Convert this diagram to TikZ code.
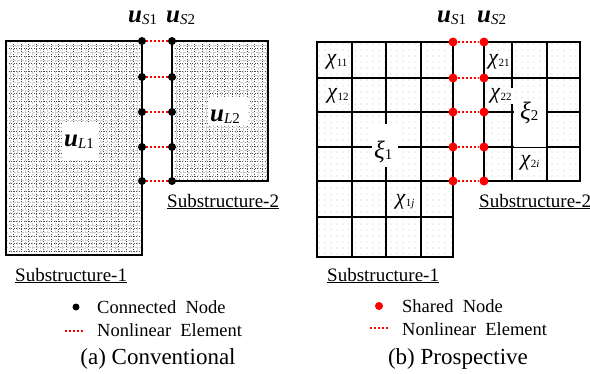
\documentclass[tikz,border=0pt]{standalone}
\usepackage{fontspec}
\setmainfont{Liberation Serif}
\newcommand{\dofvar}[2]{{\fontsize{25}{25}\selectfont\textbf{\textit{#1}}}\raisebox{-0.45ex}{\fontsize{15}{15}\selectfont #2}}
\newcommand{\chivar}[1]{{\fontsize{22}{22}\selectfont\textit{χ}}\raisebox{-0.4ex}{\fontsize{11}{11}\selectfont #1}}
\newcommand{\xivar}[1]{{\fontsize{25}{25}\selectfont\textit{ξ}}\raisebox{-0.4ex}{\fontsize{15}{15}\selectfont #1}}
\begin{document}
\begin{tikzpicture}[x=1pt,y=-1pt,
  border/.style={line width=2.6pt},
  inner/.style={line width=1.7pt},
  meshgray/.style={gray!40, line width=0.45pt, dash pattern=on 2.4pt off 1.4pt},
  meshdark/.style={black!70, line width=0.45pt, dash pattern=on 0.9pt off 1.6pt},
  dotc/.style={black!65},
  cnode/.style={circle, fill=black, inner sep=0pt, minimum size=8pt},
  snode/.style={circle, fill=red, inner sep=0pt, minimum size=9pt},
  nlel/.style={red, line width=2.2pt, dash pattern=on 2.2pt off 1.8pt},
  dof/.style={anchor=base west, inner sep=0pt},
  lbl/.style={fill=white, inner sep=1.5pt},
  chil/.style={lbl, inner sep=1pt},
  subname/.style={anchor=base west, inner sep=0pt, font=\fontsize{19}{19}\selectfont},
  legtext/.style={anchor=base west, inner sep=0pt, font=\fontsize{18.5}{18.5}\selectfont},
  caption/.style={anchor=base, inner sep=0pt, font=\fontsize{23}{23}\selectfont}
]
\useasboundingbox (0,0) rectangle (590,373);

% ---------- (a) conventional: fine meshes ----------
\begin{scope}
  \clip (6,41) rectangle (142,255);
  \foreach \k in {0,...,18} {\draw[meshgray] ({9.75+\k*7.5},41) -- ++(0,214);}
  \foreach \k in {0,...,29} {\draw[meshgray] (6,{44.75+\k*7.5}) -- ++(136,0);}
  \foreach \k in {0,...,18} {\draw[meshdark] ({6+\k*7.5},41) -- ++(0,214);}
  \foreach \k in {0,...,29} {\draw[meshdark] (6,{41+\k*7.5}) -- ++(136,0);}
\end{scope}
\begin{scope}
  \clip (172,41) rectangle (268,181);
  \foreach \k in {0,...,13} {\draw[meshgray] ({175.75+\k*7.5},41) -- ++(0,140);}
  \foreach \k in {0,...,19} {\draw[meshgray] (172,{44.75+\k*7.5}) -- ++(96,0);}
  \foreach \k in {0,...,13} {\draw[meshdark] ({172+\k*7.5},41) -- ++(0,140);}
  \foreach \k in {0,...,19} {\draw[meshdark] (172,{41+\k*7.5}) -- ++(96,0);}
\end{scope}
\draw[border] (6,41) rectangle (142,255);
\draw[border] (172,41) rectangle (268,181);

\node[lbl, minimum width=37pt, minimum height=38pt] (uL1) at (80,141) {};
\node[dof] (uL1t) at (64,146) {\dofvar{u}{\textit{L}1}};
\node[lbl, minimum width=40pt, minimum height=28pt] (uL2) at (228,111) {};
\node[dof] (uL2t) at (210,121) {\dofvar{u}{\textit{L}2}};

\foreach \r/\y in {1/41,2/77,3/112,4/147,5/181} {
  \node[cnode] (ca\r) at (142,\y) {};
  \node[cnode] (cb\r) at (172,\y) {};
  \draw[nlel] (ca\r) -- (cb\r);
}
\node[dof] (uS1a) at (128,22) {\dofvar{u}{\textit{S}1}};
\node[dof] (uS2a) at (166,22) {\dofvar{u}{\textit{S}2}};

\node[subname] (sub2a) at (167,207) {\underline{Substructure-2}};
\node[subname] (sub1a) at (15,281) {\underline{Substructure-1}};

\node[cnode, minimum size=7pt] (legca) at (76,307) {};
\node[legtext] (legcat) at (97,313) {Connected\ \ Node};
\coordinate (legna1) at (65,331);
\coordinate (legna2) at (84,331);
\draw[nlel] (legna1) -- (legna2);
\node[legtext] (legnat) at (97,336) {Nonlinear\ \ Element};
\node[caption] (capa) at (158,364) {(a) Conventional};

% ---------- (b) prospective: coarse meshes ----------
\begin{scope}
  \clip (317,42) rectangle (453,257);
  \foreach \i in {0,...,22} {
    \foreach \j in {0,...,36} {
      \fill[dotc] ({319+\i*6},{44+\j*6}) circle (0.45);
    }
  }
\end{scope}
\begin{scope}
  \clip (484,42) rectangle (580,181);
  \foreach \i in {0,...,16} {
    \foreach \j in {0,...,23} {
      \fill[dotc] ({486+\i*6},{44+\j*6}) circle (0.45);
    }
  }
\end{scope}
\foreach \x in {352,386,421} {\draw[inner] (\x,42) -- (\x,257);}
\foreach \y in {78,112,147,181,217} {\draw[inner] (317,\y) -- (453,\y);}
\foreach \x in {512,547} {\draw[inner] (\x,42) -- (\x,181);}
\foreach \y in {78,112,147} {\draw[inner] (484,\y) -- (580,\y);}
\draw[border] (317,42) rectangle (453,257);
\draw[border] (484,42) rectangle (580,181);

\node[lbl, minimum width=26pt, minimum height=43pt] (xi1) at (385,145) {};
\node[dof] (xi1t) at (374,158) {\xivar{1}};
\node[lbl, minimum width=32pt, minimum height=46pt] (xi2) at (530,124) {};
\node[dof] (xi2t) at (520,119) {\xivar{2}};

\node[chil] (c11) at (337,62) {\chivar{11}};
\node[chil] (c12) at (338,96) {\chivar{12}};
\node[chil] (c1j) at (405,202) {\chivar{1\textit{j}}};
\node[chil] (c21) at (499,62) {\chivar{21}};
\node[chil] (c22) at (501,96) {\chivar{22}};
\node[chil] (c2i) at (530,163) {\chivar{2\textit{i}}};

\foreach \r/\y in {1/42,2/78,3/112,4/147,5/181} {
  \node[snode] (sa\r) at (453,\y) {};
  \node[snode] (sb\r) at (484,\y) {};
  \draw[nlel] (sa\r) -- (sb\r);
}
\node[dof] (uS1b) at (437,22) {\dofvar{u}{\textit{S}1}};
\node[dof] (uS2b) at (477,22) {\dofvar{u}{\textit{S}2}};

\node[subname] (sub2b) at (479,207) {\underline{Substructure-2}};
\node[subname] (sub1b) at (327,281) {\underline{Substructure-1}};

\node[snode, minimum size=8pt] (legsn) at (379,306) {};
\node[legtext] (legsnt) at (402,312) {Shared\ \ Node};
\coordinate (legnb1) at (370,328);
\coordinate (legnb2) at (388,328);
\draw[nlel] (legnb1) -- (legnb2);
\node[legtext] (legnbt) at (402,335) {Nonlinear\ \ Element};
\node[caption] (capb) at (458,364) {(b) Prospective};
\end{tikzpicture}
\end{document}
